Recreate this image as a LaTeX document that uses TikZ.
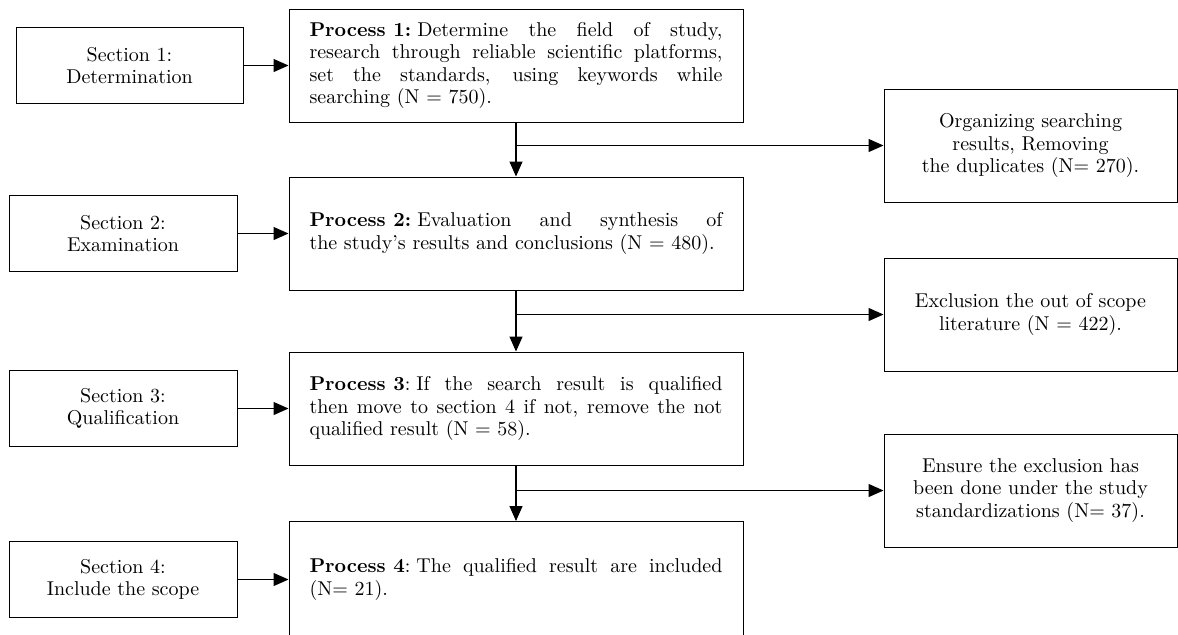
\documentclass[tikz,border=0pt]{standalone}
\usepackage{tikz}
\usetikzlibrary{arrows.meta,positioning}

\begin{document}
\begin{tikzpicture}[
  x=0.5pt, y=-0.5pt,
  every node/.style={font=\fontsize{10}{11.1}\selectfont},
  boxstep/.style={draw, line width=0.5pt, inner sep=0pt},
  sectstep/.style={boxstep, align=center, minimum width=114pt, minimum height=38pt},
  procstep/.style={boxstep, align=justify, text width=206.5pt, inner xsep=10.25pt, minimum height=56.5pt},
  outstep/.style={boxstep, align=center, minimum width=146.5pt, minimum height=56.5pt},
  arrow/.style={-{Triangle[length=7.5pt,width=6.5pt]}, line width=0.6pt}
]
\useasboundingbox (0,0) rectangle (1178,634);

\node[sectstep, minimum width=113.5pt] (s1) at (129.5,65.5) {Section 1:\\Determination};
\node[procstep] (p1) at (516,65.5) {\mbox{\textbf{Process 1:}}\hspace{0.3em}Determine the field of study,\linebreak research through reliable scientific platforms,\linebreak set the standards, using keywords while\linebreak searching (N = 750).};
\draw[arrow] (s1) -- (p1);

\node[outstep] (r1) at (1030.5,145.5) {Organizing searching\\results, Removing\\the duplicates (N= 270).};

\node[sectstep] (s2) at (123,233.5) {Section 2:\\Examination};
\node[procstep] (p2) at (516,233.5) {\mbox{\textbf{Process 2:}}\hspace{0.3em}Evaluation and synthesis of\linebreak the study's results and conclusions (N = 480).};
\draw[arrow] (s2) -- (p2);
\draw[arrow] (p1) -- (p2);
\draw[arrow] (p1 |- r1) -- (r1);

\node[outstep] (r2) at (1030.5,314.5) {Exclusion the out of scope\\literature (N = 422).};

\node[sectstep] (s3) at (123,408.5) {Section 3:\\Qualification};
\node[procstep] (p3) at (516,408.5) {\mbox{\textbf{Process 3}:}\hspace{0.3em}If the search result is qualified\linebreak then move to section 4 if not, remove the not\linebreak qualified result (N = 58).};
\draw[arrow] (s3) -- (p3);
\draw[arrow] (p2) -- (p3);
\draw[arrow] (p2 |- r2) -- (r2);

\node[outstep] (r3) at (1030.5,490.5) {Ensure the exclusion has\\been done under the study\\standardizations (N= 37).};

\node[sectstep] (s4) at (123,579.5) {Section 4:\\Include the scope};
\node[procstep, minimum height=58pt] (p4) at (516,579.5) {\mbox{\textbf{Process 4}:}\hspace{0.3em}The qualified result are included\linebreak (N= 21).};
\draw[arrow] (s4) -- (p4);
\draw[arrow] (p3) -- (p4);
\draw[arrow] (p3 |- r3) -- (r3);
\end{tikzpicture}
\end{document}
